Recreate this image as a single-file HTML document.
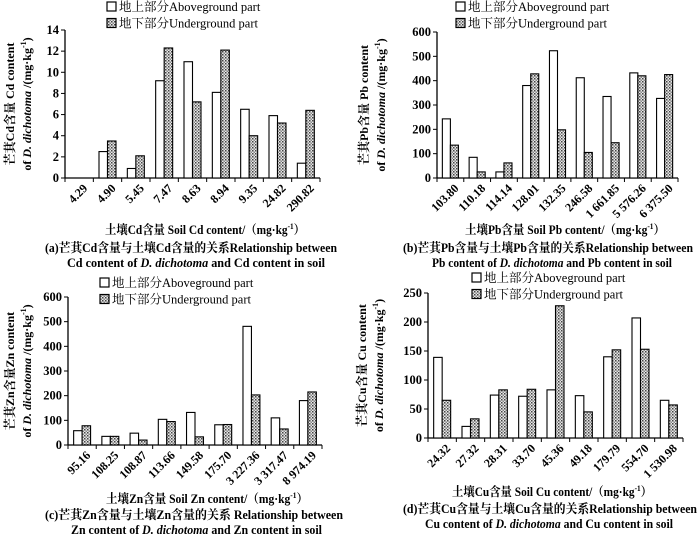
<!DOCTYPE html>
<html><head><meta charset="utf-8"><style>
html,body{margin:0;padding:0;background:#fff;}
svg{display:block;font-family:"Liberation Serif","Noto Serif CJK SC",serif;}
</style></head><body>
<svg id="fig" width="700" height="537" viewBox="0 0 700 537" xmlns="http://www.w3.org/2000/svg">
<defs>
<pattern id="dots" width="3" height="3" patternUnits="userSpaceOnUse">
<rect width="3" height="3" fill="#e8e8e8"/>
<rect x="0" y="0" width="1.5" height="1.5" fill="#444"/>
<rect x="1.5" y="1.5" width="1.5" height="1.5" fill="#888"/>
</pattern>
</defs>
</svg>
<script>
const catsA=["4.29","4.90","5.45","7.47","8.63","8.94","9.35","24.82","290.82"];
const aboveA=[0,2.5,0.9,9.2,11,8.1,6.5,5.9,1.4];
const underA=[0,3.5,2.1,12.3,7.2,12.1,4.0,5.2,6.4];
const ticksA=[0,2,4,6,8,10,12,14];
const catsB=["103.80","110.18","114.14","128.01","132.35","246.58","1 661.85","5 576.26","6 375.50"];
const aboveB=[243,85,25,380,523,412,335,432,327];
const underB=[135,25,62,428,198,105,145,420,425];
const ticksB=[0,100,200,300,400,500,600];
const catsC=["95.16","108.25","108.87","113.66","149.58","175.70","3 227.36","3 317.47","8 974.19"];
const aboveC=[58,35,48,104,132,82,481,110,180];
const underC=[78,35,20,95,33,83,203,65,215];
const ticksC=[0,100,200,300,400,500,600];
const catsD=["24.32","27.32","28.31","33.70","45.36","49.18","179.79","554.70","1 530.98"];
const aboveD=[139,20,74,72,83,73,140,207,65];
const underD=[65,33,83,84,228,45,152,153,57];
const ticksD=[0,50,100,150,200,250];

const NS="http://www.w3.org/2000/svg";
const svg=document.getElementById('fig');
function mk(tag,attrs,parent,text){const e=document.createElementNS(NS,tag);for(const k in attrs)e.setAttribute(k,attrs[k]);if(text!==undefined)e.textContent=text;(parent||svg).appendChild(e);return e;}

function panel(p){
  const g=mk('g',{});
  
  
  const max=p.ticks[p.ticks.length-1];
  const y=v=>p.y0-(v/max)*(p.y0-p.yTop);
  const n=p.cats.length, cw=(p.x1-p.x0)/n;
  const cx=i=>p.x0+cw*(i+0.5);
  const ya=mk('line',{x1:p.x0,y1:p.yTop,x2:p.x0,y2:p.y0,stroke:'#000','stroke-width':1.3},g);
  
  const xa=mk('line',{x1:p.x0,y1:p.y0,x2:p.x1,y2:p.y0,stroke:'#000','stroke-width':1.3},g);
  
  p.ticks.forEach(t=>{
    mk('line',{x1:p.x0-4,y1:y(t),x2:p.x0,y2:y(t),stroke:'#000'},g);
    const tl=mk('text',{x:p.x0-6,y:y(t)+4,'text-anchor':'end','font-size':12.5,'font-weight':'bold'},g,t);
    
  });
  for(let i=0;i<=n;i++)mk('line',{x1:p.x0+cw*i,y1:p.y0,x2:p.x0+cw*i,y2:p.y0+4,stroke:'#000'},g);
  const bw=cw*0.3;
  p.cats.forEach((c,i)=>{
    const a=p.above[i],u=p.under[i];
    const r1=mk('rect',{x:cx(i)-bw,y:y(a),width:bw,height:p.y0-y(a),fill:'#fff',stroke:'#000','stroke-width':1.1},g);
    
    const r2=mk('rect',{x:cx(i),y:y(u),width:bw,height:p.y0-y(u),fill:'url(#dots)',stroke:'#000','stroke-width':1.1},g);
    
    const tx=cx(i)+6, ty=p.y0+8;
    const xl=mk('text',{x:tx,y:ty,'text-anchor':'end','font-size':12,'font-weight':'bold',transform:`rotate(-45 ${tx} ${ty})`,dy:'0.35em'},g,c);
    
  });
  [[p.leg[1],'#fff','地上部分Aboveground part','legend-aboveground'],[p.leg[1]+16.5,'url(#dots)','地下部分Underground part','legend-underground']].forEach(l=>{
    const lg=mk('g',{},g);
    mk('rect',{x:p.leg[0],y:l[0]-9,width:9,height:9,fill:l[1],stroke:'#000','stroke-width':1.2},lg);
    mk('text',{x:p.leg[0]+12,y:l[0],'font-size':12.5},lg,l[2]);
  });
  const yt=mk('text',{transform:`translate(${p.ytx},${(p.yTop+p.y0)/2}) rotate(-90)`,'text-anchor':'middle','font-size':12,'font-weight':'bold'},g);
  
  mk('tspan',{x:0,y:0},yt,p.ytitle);
  const t2=mk('tspan',{x:0,y:17},yt);
  mk('tspan',{},t2,'of ');mk('tspan',{'font-style':'italic'},t2,'D. dichotoma');mk('tspan',{},t2,' /(mg·kg');
  mk('tspan',{dy:-5,'font-size':8},t2,'-1');mk('tspan',{dy:5},t2,')');
  const xt=mk('text',{x:p.t[0],y:p.t[2],'font-size':12.5,'font-weight':'bold',textLength:p.t[1]-p.t[0],lengthAdjust:'spacingAndGlyphs'},g);
  
  mk('tspan',{},xt,p.xtitle);mk('tspan',{dy:-5,'font-size':8},xt,'-1');mk('tspan',{dy:5},xt,'）');
  const c1=mk('text',{x:p.c1[0],y:p.c1[2],'font-size':12.5,'font-weight':'bold',textLength:p.c1[1]-p.c1[0],lengthAdjust:'spacingAndGlyphs'},g,p.cap1);
  
  const c2=mk('text',{x:p.c2[0],y:p.c2[2],'font-size':12.5,'font-weight':'bold',textLength:p.c2[1]-p.c2[0],lengthAdjust:'spacingAndGlyphs'},g);
  
  mk('tspan',{},c2,p.el+' content of ');mk('tspan',{'font-style':'italic'},c2,'D. dichotoma');mk('tspan',{},c2,'  and '+p.el+' content in soil');
}
panel({id:'a',cats:catsA,above:aboveA,under:underA,ticks:ticksA,x0:65,x1:320,yTop:30,y0:178,leg:[107,11],ytx:14,
  ytitle:'芒萁Cd含量 Cd content',xtitle:'土壤Cd含量 Soil Cd  content/（mg·kg',el:'Cd',
  t:[105,305,234],c1:[45,337,252],c2:[67,325,267],
  cap1:'(a)芒萁Cd含量与土壤Cd含量的关系Relationship between'});
panel({id:'b',cats:catsB,above:aboveB,under:underB,ticks:ticksB,x0:437,x1:678,yTop:32,y0:178,leg:[456,11],ytx:368,
  ytitle:'芒萁Pb含量 Pb content',xtitle:'土壤Pb含量 Soil Pb  content/（mg·kg',el:'Pb',
  t:[465,665,234],c1:[403,693,252],c2:[432,672,267],
  cap1:'(b)芒萁Pb含量与土壤Pb含量的关系Relationship between'});
panel({id:'c',cats:catsC,above:aboveC,under:underC,ticks:ticksC,x0:68,x1:322,yTop:297,y0:445,leg:[100,287],ytx:14,
  ytitle:'芒萁Zn含量Zn content',xtitle:'土壤Zn含量 Soil Zn content/（mg·kg',el:'Zn',
  t:[106,308,503],c1:[45,343,519],c2:[71,322,534],
  cap1:'(c)芒萁Zn含量与土壤Zn含量的关系 Relationship between'});
panel({id:'d',cats:catsD,above:aboveD,under:underD,ticks:ticksD,x0:428,x1:683,yTop:293,y0:438,leg:[472,282],ytx:366,
  ytitle:'芒萁Cu含量 Cu content',xtitle:'土壤Cu含量 Soil Cu  content/（mg·kg',el:'Cu',
  t:[452,652,496],c1:[403,697,513],c2:[425,673,528],
  cap1:'(d)芒萁Cu含量与土壤Cu含量的关系Relationship between'});
</script>
</body></html>
